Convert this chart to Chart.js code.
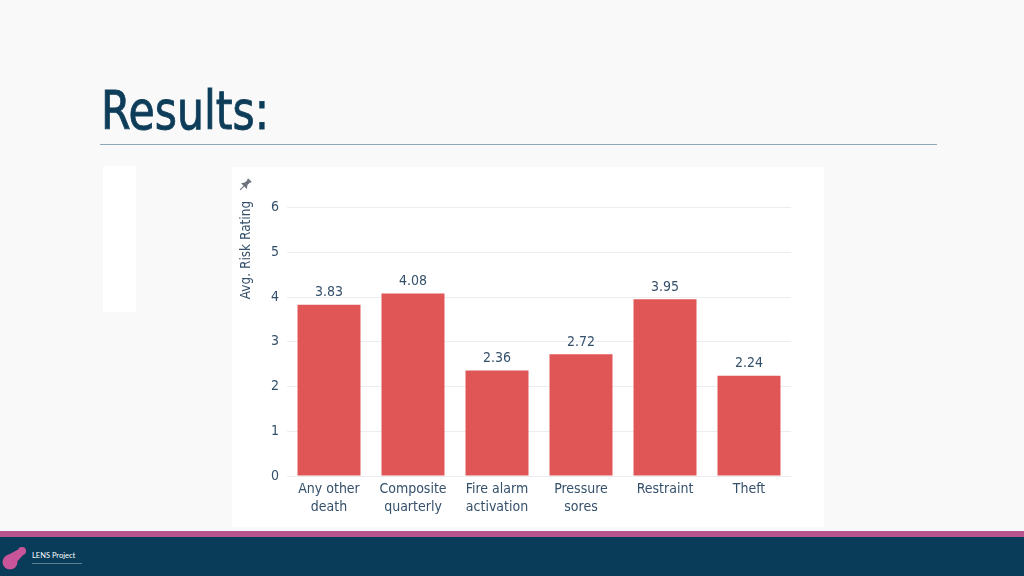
<!DOCTYPE html>
<html>
<head>
<meta charset="utf-8">
<script src="https://cdn.jsdelivr.net/npm/chart.js@4"></script>
<style>
  html,body{margin:0;padding:0;}
  body{width:1024px;height:576px;position:relative;overflow:hidden;background:#f9f9f9;font-family:"DejaVu Sans",sans-serif;}
  #title{position:absolute;left:101px;top:79px;font-family:"DejaVu Sans Condensed","DejaVu Sans",sans-serif;font-size:53px;line-height:64px;color:#0e3d5a;white-space:nowrap;transform-origin:0 0;-webkit-text-stroke:0.9px #0e3d5a;}
  #rule{position:absolute;left:100px;top:144px;width:837px;height:1px;background:#8fa8b8;}
  #leftbox{position:absolute;left:103px;top:166px;width:33px;height:146px;background:#ffffff;}
  #panel{position:absolute;left:232px;top:167px;width:592px;height:360px;background:#ffffff;}
  #panel canvas{position:absolute;left:0;top:0;}
  #pink{position:absolute;left:0;top:531px;width:1024px;height:6px;background:#b9558e;}
  #navy{position:absolute;left:0;top:537px;width:1024px;height:39px;background:#083c58;}
  #lens{position:absolute;left:32px;top:551px;font-size:7.5px;color:#ffffff;font-family:Lato,"DejaVu Sans",sans-serif;}
  #lenssub{position:absolute;left:32px;top:563px;width:50px;height:1px;background:#5d7f95;}
  #pin{position:absolute;left:237px;top:177px;}
  #logo{position:absolute;left:0;top:540px;}
</style>
</head>
<body>
<div id="title">Results:</div>
<div id="rule"></div>
<div id="leftbox"></div>
<div id="panel"><canvas id="c" width="592" height="360"></canvas></div>
<svg id="pin" width="16" height="16" viewBox="0 0 16 16">
  <g transform="rotate(45 8 8)" fill="#6b6f78">
    <rect x="5.5" y="1" width="5" height="1.6" rx="0.5"/>
    <rect x="6.3" y="2.4" width="3.4" height="4.2"/>
    <path d="M4 9.5 L12 9.5 L9.8 6.4 L6.2 6.4 Z"/>
    <rect x="7.5" y="9.5" width="1" height="5.5"/>
  </g>
</svg>
<div id="pink"></div>
<div id="navy"></div>
<svg id="logo" width="32" height="34" viewBox="0 0 32 34">
  <path d="M6 16 L21 8 L24 14 L13 26 Z" fill="#c8559a"/>
  <circle cx="10" cy="22" r="7.5" fill="#c8559a"/>
  <circle cx="22" cy="11" r="4" fill="#c8559a"/>
</svg>
<div id="lens">LENS Project</div>
<div id="lenssub"></div>
<script>
const categories = [["Any other","death"],["Composite","quarterly"],["Fire alarm","activation"],["Pressure","sores"],["Restraint"],["Theft"]];
const values = [3.83, 4.08, 2.36, 2.72, 3.95, 2.24];
const valueLabels = ["3.83","4.08","2.36","2.72","3.95","2.24"];
const yTicks = [0,1,2,3,4,5,6];
const yTitle = "Avg. Risk Rating";

// fit title width
(function(){
  const t = document.getElementById('title');
  const w = t.getBoundingClientRect().width;
  t.style.transform = 'scaleX(' + (168 / w) + ')';
})();

const textColor = '#35506b';
const fontFamily = '"DejaVu Sans Condensed", "DejaVu Sans", sans-serif';

const labelPlugin = {
  id: 'valueLabels',
  afterDatasetsDraw(chart){
    const ctx = chart.ctx;
    const meta = chart.getDatasetMeta(0);
    ctx.save();
    ctx.font = '14px ' + fontFamily;
    ctx.fillStyle = textColor;
    ctx.textAlign = 'center';
    ctx.textBaseline = 'middle';
    meta.data.forEach((bar, i) => {
      ctx.fillText(valueLabels[i], bar.x, bar.y - 12);
    });
    ctx.restore();
  },
  afterDraw(chart){
    const ctx = chart.ctx;
    ctx.save();
    ctx.translate(14, 83);
    ctx.rotate(-Math.PI/2);
    ctx.font = '13.5px ' + fontFamily;
    ctx.fillStyle = textColor;
    ctx.textAlign = 'center';
    ctx.textBaseline = 'middle';
    ctx.fillText(yTitle, 0, 0);
    ctx.restore();
  }
};

new Chart(document.getElementById('c'), {
  type: 'bar',
  data: {
    labels: categories,
    datasets: [{
      data: values,
      backgroundColor: '#e05656',
      borderWidth: 0,
      barPercentage: 0.75,
      categoryPercentage: 1.0
    }]
  },
  options: {
    responsive: false,
    animation: false,
    devicePixelRatio: 1,
    layout: { padding: { left: 0, right: 33, top: 0, bottom: 0 } },
    plugins: { legend: { display: false }, tooltip: { enabled: false } },
    scales: {
      x: {
        grid: { display: false, drawTicks: false },
        border: { display: false },
        ticks: {
          color: textColor,
          font: { family: fontFamily, size: 14, lineHeight: '18px' },
          padding: 4,
          maxRotation: 0,
          autoSkip: false
        },
        afterFit(scale){ scale.height = 51; }
      },
      y: {
        min: 0,
        max: 6.54,
        grid: { color: '#ebedf0', drawTicks: false, lineWidth: 1 },
        border: { display: false },
        ticks: {
          color: textColor,
          font: { family: fontFamily, size: 14 },
          padding: 8,
          stepSize: 1
        },
        afterBuildTicks(scale){
          scale.ticks = yTicks.map(v => ({ value: v }));
        },
        afterFit(scale){ scale.width = 55; }
      }
    }
  },
  plugins: [labelPlugin]
});
</script>
</body>
</html>
